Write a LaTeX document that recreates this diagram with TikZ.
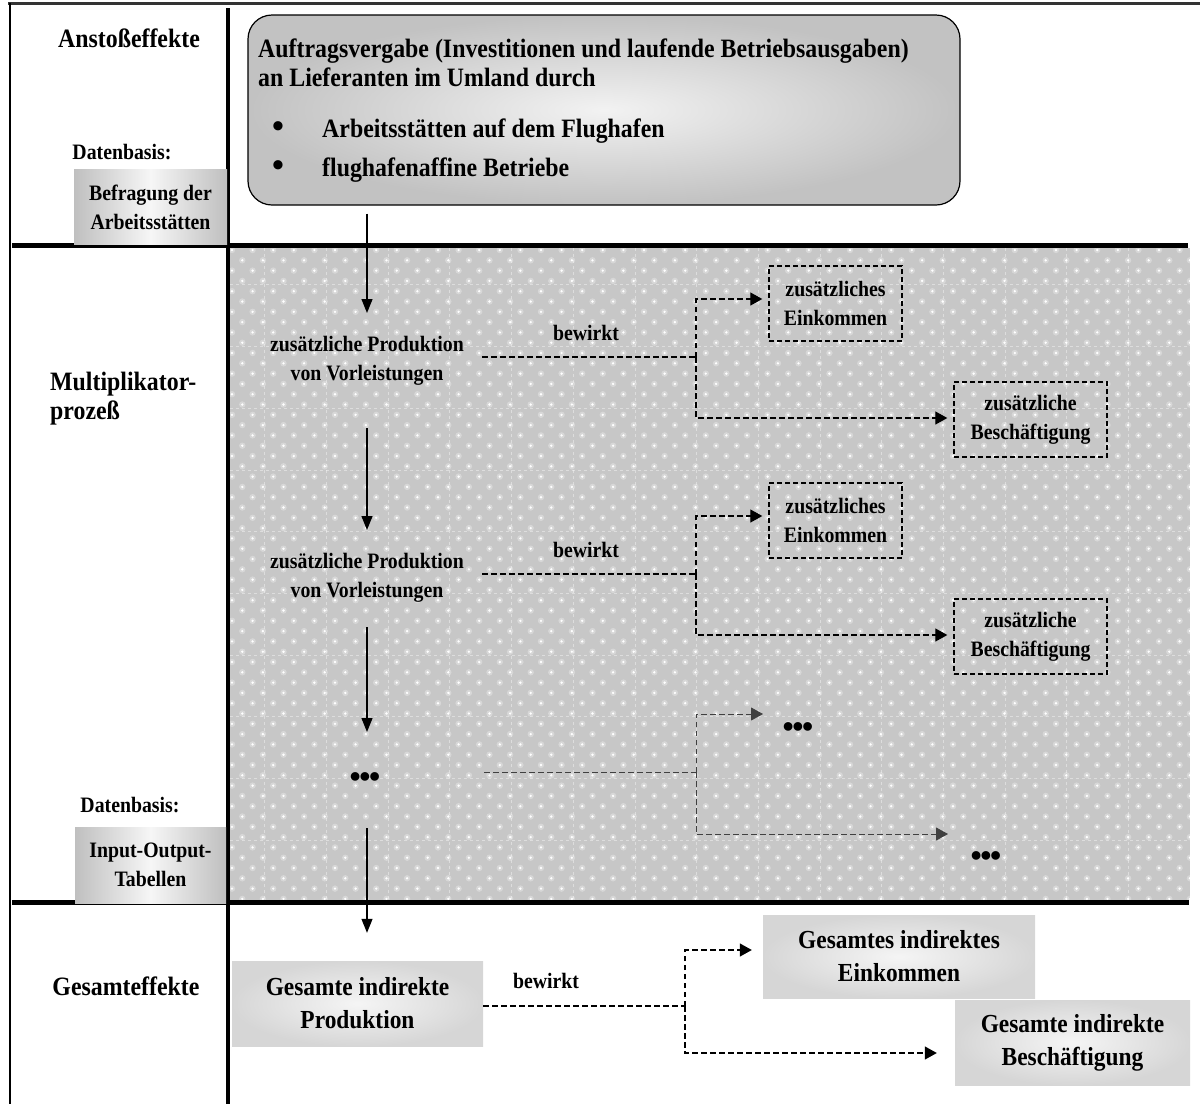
\documentclass[tikz,border=0pt]{standalone}
\usepackage{fontspec}
\setmainfont{Liberation Serif}[FakeStretch=0.9]
\newfontfamily\plainserif{Liberation Serif}
\usetikzlibrary{arrows.meta}
\definecolor{patbase}{gray}{0.78}
\begin{document}
\begin{tikzpicture}[x=1pt,y=-1pt,
  txts/.style={font=\fontsize{22}{29}\selectfont\bfseries, align=center, inner sep=0pt},
  txtl/.style={font=\fontsize{26.5}{29}\selectfont\bfseries, align=center, inner sep=0pt},
  srcbox/.style={txts, left color=gray!50, right color=gray!50, middle color=gray!7, minimum width=153pt, minimum height=75pt},
  sumbox/.style={font=\fontsize{26}{33}\selectfont\bfseries, align=center, inner sep=0pt, inner color=gray!8, outer color=gray!32},
  effbox/.style={txts, draw, dash pattern=on 5pt off 3pt, line width=1.4pt},
  mainbox/.style={draw, line width=1.2pt, rounded corners=24pt, inner color=gray!10, outer color=gray!48, inner sep=0pt},
  bul/.style={font=\plainserif\fontsize{34}{34}\selectfont\bfseries, inner sep=0pt},
  dotsym/.style={font=\plainserif\fontsize{32}{32}\selectfont\bfseries, inner sep=0pt},
  flow/.style={-{Triangle[length=14pt,width=11pt]}, line width=1.2pt},
  link/.style={dash pattern=on 5.5pt off 3.5pt, line width=1.3pt},
  linkarr/.style={link, -{Triangle[length=12pt,width=13pt]}},
  linkthin/.style={dash pattern=on 5.5pt off 3.5pt, line width=0.9pt, black!75},
  linkthinarr/.style={linkthin, -{Triangle[length=12pt,width=13pt]}},
  rule/.style={line width=5.5pt}
]
\useasboundingbox (0,0) rectangle (1200,1104);

% dotted background of the multiplier band
\fill[patbase] (230,248) rectangle (1190,900);
\begin{scope}
  \clip (230,248) rectangle (1190,900);
  \foreach \k in {0,...,63} {
    \fill[white, opacity=0.3] \foreach \i in {0,...,47}
      { ({232+20.6*\i+10.3*mod(\k,2)},{250+10.3*\k}) circle (3.2pt) };
    \fill[white] \foreach \i in {0,...,47}
      { ({232+20.6*\i+10.3*mod(\k,2)},{250+10.3*\k}) circle (1.3pt) };
  }
  \foreach \n in {0,...,14}
    \draw[white, opacity=0.4, line width=0.7pt, dash pattern=on 3pt off 3pt]
      ({264.7+61.7*\n},248) -- ({264.7+61.7*\n},900);
  \foreach \n in {0,...,9}
    \draw[white, opacity=0.4, line width=0.7pt, dash pattern=on 3pt off 3pt]
      (230,{284.8+61.7*\n}) -- (1190,{284.8+61.7*\n});
\end{scope}

% frame and dividers
\draw[line width=3pt, black!80] (8,3.5) -- (1200,3.5);
\draw[line width=2.5pt] (10,2.5) -- (10,1104);
\draw[line width=4pt] (227.5,8) -- (227.5,1104);
\draw[rule] (12,245.5) -- (1188,245.5);
\draw[line width=5pt] (12,902.5) -- (1189,902.5);

% left column
\node[txtl] (l1) at (129,38) {Anstoßeffekte};
\node[txts] (d1) at (122,152) {Datenbasis:};
\node[srcbox] (s1) at (150.5,207) {Befragung der\\Arbeitsstätten};
\node[txtl, align=left, anchor=north west] (l2) at (50,372) {Multiplikator-\\prozeß};
\node[txts] (d2) at (130,805) {Datenbasis:};
\node[srcbox, minimum width=151pt, minimum height=76pt] (s2) at (150.5,865) {Input-Output-\\Tabellen};
\node[txtl] (l3) at (126,986) {Gesamteffekte};

% initial impulse box
\node[mainbox, minimum width=712pt, minimum height=190pt] (main) at (604,110) {};
\node[txtl, anchor=base west] (m1) at (258,57) {Auftragsvergabe (Investitionen und laufende Betriebsausgaben)};
\node[txtl, anchor=base west] (m2) at (258,86) {an Lieferanten im Umland durch};
\node[bul, anchor=base west] (mb1) at (272,137) {•};
\node[txtl, anchor=base west] (mi1) at (322,137) {Arbeitsstätten auf dem Flughafen};
\node[bul, anchor=base west] (mb2) at (272,176) {•};
\node[txtl, anchor=base west] (mi2) at (322,176) {flughafenaffine Betriebe};

% production chain
\node[txts] (p1) at (367,361) {zusätzliche Produktion\\von Vorleistungen};
\node[txts] (p2) at (367,578) {zusätzliche Produktion\\von Vorleistungen};
\node[dotsym] (p3) at (365,780) {•\kern-1.5pt•\kern-1.5pt•};
\node[sumbox, minimum width=251pt, minimum height=85pt] (tot) at (357.5,1003.5) {Gesamte indirekte\\Produktion};

\draw[flow, shorten <=8pt, shorten >=48pt] (main.south -| p1.center) -- (p1.center);
\draw[flow, shorten <=67pt, shorten >=48pt] (p1.center) -- (p2.center);
\draw[flow, shorten <=49pt, shorten >=48pt] (p2.center) -- (p3.center -| p1.center);
\draw[flow, shorten <=48pt, shorten >=28pt] (p3.center -| p1.center) -- (tot.north -| p1.center);

% effects of each round
\node[txts] (w1) at (586,333) {bewirkt};
\node[txts] (w2) at (586,550) {bewirkt};
\node[txts] (w3) at (546,981) {bewirkt};

\node[effbox, minimum width=133pt, minimum height=75pt] (e1) at (835.5,303.5) {zusätzliches\\Einkommen};
\node[effbox, minimum width=153pt, minimum height=75pt] (e2) at (1030.5,419.5) {zusätzliche\\Beschäftigung};
\node[effbox, minimum width=133pt, minimum height=75pt] (e3) at (835.5,520.5) {zusätzliches\\Einkommen};
\node[effbox, minimum width=153pt, minimum height=75pt] (e4) at (1030.5,636.5) {zusätzliche\\Beschäftigung};
\node[dotsym] (r1) at (798,730) {•\kern-1.5pt•\kern-1.5pt•};
\node[dotsym] (r2) at (986,859) {•\kern-1.5pt•\kern-1.5pt•};

\node[sumbox, minimum width=272pt, minimum height=83pt] (inc) at (899,956.5) {Gesamtes indirektes\\Einkommen};
\node[sumbox, minimum width=235pt, minimum height=85pt] (emp) at (1072.5,1042.5) {Gesamte indirekte\\Beschäftigung};

% branching connectors
\coordinate (j1) at (696,357);
\coordinate (j2) at (696,574);
\coordinate (j3) at (696,772);
\coordinate (j4) at (685,1006);
\coordinate (c3a) at (763,714);
\coordinate (c3b) at (948,834);
\coordinate (h3) at (484,772);

\draw[link, shorten <=18pt] (p1.east |- j1) -- (j1);
\draw[linkarr, shorten >=6pt] (j1) |- ([yshift=4.5pt]e1.west);
\draw[linkarr, shorten >=6pt] (j1) |- ([yshift=1.5pt]e2.west);

\draw[link, shorten <=18pt] (p2.east |- j2) -- (j2);
\draw[linkarr, shorten >=6pt] (j2) |- ([yshift=4.5pt]e3.west);
\draw[linkarr, shorten >=6pt] (j2) |- ([yshift=1.5pt]e4.west);

\draw[linkthin] (h3) -- (j3);
\draw[linkthinarr] (j3) |- (c3a);
\draw[linkthinarr] (j3) |- (c3b);

\draw[link] (tot.east |- j4) -- (j4);
\draw[linkarr, shorten >=11pt] (j4) |- ([yshift=6.5pt]inc.west);
\draw[linkarr, shorten >=18pt] (j4) |- ([yshift=-10.5pt]emp.west);

\end{tikzpicture}
\end{document}
